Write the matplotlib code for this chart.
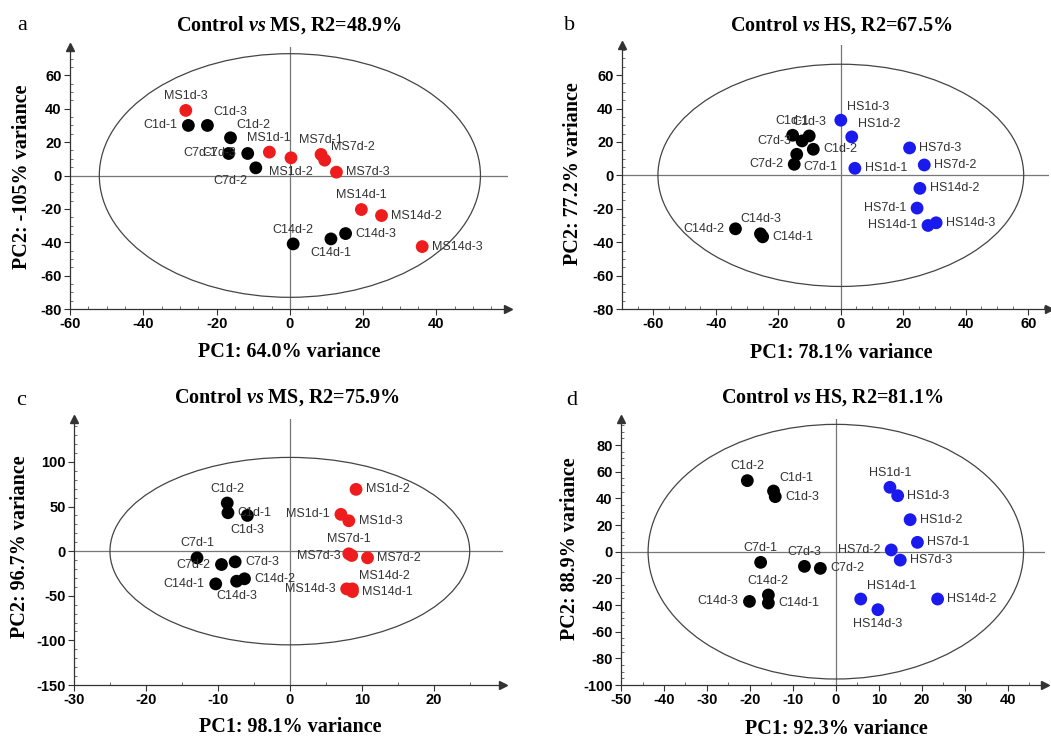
import matplotlib
matplotlib.use("Agg")
import matplotlib.pyplot as plt
from matplotlib.patches import Ellipse
from matplotlib.ticker import MultipleLocator

plt.rcParams["mathtext.fontset"] = "custom"
plt.rcParams["mathtext.bfit"] = "Liberation Serif:italic:bold"
plt.rcParams["mathtext.rm"] = "Liberation Serif:bold"
plt.rcParams["axes.unicode_minus"] = False

# Nomes das amostras (iguais nos quatro paineis, muda so o tratamento)
nomes_c = ["C1d-1", "C1d-2", "C1d-3", "C7d-1", "C7d-2", "C7d-3", "C14d-1", "C14d-2", "C14d-3"]
nomes_ms = ["MS1d-1", "MS1d-2", "MS1d-3", "MS7d-1", "MS7d-2", "MS7d-3", "MS14d-1", "MS14d-2", "MS14d-3"]
nomes_hs = ["HS1d-1", "HS1d-2", "HS1d-3", "HS7d-1", "HS7d-2", "HS7d-3", "HS14d-1", "HS14d-2", "HS14d-3"]

# Painel a - Control vs MS
a_pc1 = [-27.7, -16.2, -22.5, -16.7, -9.3, -11.5, 11.2, 0.9, 15.2,
         -5.6, 0.3, -28.4, 8.5, 9.5, 12.7, 19.5, 25.0, 36.1]
a_pc2 = [30.0, 22.6, 30.0, 13.2, 4.6, 13.2, -38.0, -41.0, -34.8,
         14.0, 10.6, 39.0, 12.6, 9.2, 2.0, -20.4, -24.0, -42.6]
a_elipse = [104, 146]

# Painel b - Control vs HS
b_pc1 = [-15.4, -8.8, -10.1, -14.1, -14.9, -12.4, -25.0, -33.7, -25.7,
         4.5, 3.5, 0.0, 24.4, 26.7, 22.0, 27.9, 25.3, 30.5]
b_pc2 = [24.0, 15.6, 23.6, 12.6, 6.6, 20.6, -36.8, -32.0, -35.0,
         4.2, 23.0, 33.0, -19.6, 6.2, 16.4, -30.0, -7.8, -28.4]
b_elipse = [117, 133]

# Painel c - Control vs MS
c_pc1 = [-8.6, -8.7, -5.9, -12.9, -9.5, -7.6, -10.3, -6.3, -7.4,
         7.1, 9.2, 8.2, 8.2, 10.8, 8.6, 8.7, 8.7, 7.9]
c_pc2 = [43.0, 53.9, 40.0, -7.5, -15.0, -12.0, -36.7, -31.0, -33.7,
         41.2, 69.2, 34.0, -3.0, -7.5, -4.9, -45.3, -42.3, -42.3]
c_elipse = [50, 210]

# Painel d - Control vs HS
d_pc1 = [-14.5, -20.6, -14.1, -17.5, -3.6, -7.3, -15.7, -15.7, -20.1,
         12.6, 17.3, 14.4, 19.0, 12.9, 15.0, 5.8, 23.7, 9.8]
d_pc2 = [45.5, 53.3, 41.3, -8.0, -12.5, -11.0, -38.5, -32.5, -37.3,
         48.3, 24.0, 42.0, 7.0, 1.3, -6.3, -35.5, -35.5, -43.5]
d_elipse = [87.4, 191]

# Onde fica o rotulo de cada ponto (r=direita, l=esquerda, a=acima, b=abaixo)
a_rot = ["l", "ar", "ar", "l", "bl", "l", "b", "a", "r",
         "a", "b", "a", "a", "ar", "r", "a", "r", "r"]
b_rot = ["a", "r", "a", "br", "l", "l", "r", "l", "a",
         "r", "ar", "ar", "l", "r", "r", "l", "r", "r"]
c_rot = ["r", "a", "b", "a", "l", "r", "l", "r", "b",
         "l", "r", "r", "a", "r", "l", "r", "ar", "l"]
d_rot = ["ar", "a", "r", "a", "r", "a", "r", "a", "l",
         "a", "r", "r", "r", "l", "r", "ar", "r", "b"]

desloc = {
    "r": ((7, 0), "left", "center"),
    "l": ((-8, 0), "right", "center"),
    "a": ((0, 6), "center", "bottom"),
    "b": ((0, -6), "center", "top"),
    "ar": ((4.5, 5), "left", "bottom"),
    "bl": ((-6, -5), "right", "top"),
    "br": ((5, -5), "left", "top"),
}

fig = plt.figure(figsize=(10.51, 7.38), dpi=100)


def painel(rect, nomes, pc1, pc2, rot, elipse, cor, xlim, ylim, xmaj, xmin, ymaj, ymin):
    ax = fig.add_axes(rect)
    ax.set_xlim(xlim)
    ax.set_ylim(ylim)
    for lado in ["top", "right"]:
        ax.spines[lado].set_visible(False)
    for lado in ["left", "bottom"]:
        ax.spines[lado].set_color("#333333")
        ax.spines[lado].set_linewidth(0.9)
    # setas no fim dos eixos
    ax.plot(1, 0, ">", color="#333333", ms=6, transform=ax.transAxes, clip_on=False)
    ax.plot(0, 1, "^", color="#333333", ms=6, transform=ax.transAxes, clip_on=False)

    ax.xaxis.set_major_locator(MultipleLocator(xmaj))
    ax.xaxis.set_minor_locator(MultipleLocator(xmin))
    ax.yaxis.set_major_locator(MultipleLocator(ymaj))
    ax.yaxis.set_minor_locator(MultipleLocator(ymin))
    ax.tick_params(which="major", direction="out", length=4, width=0.8, color="#333333", pad=2)
    ax.tick_params(which="minor", direction="in", length=2.5, width=0.6, color="#555555")
    for t in ax.get_xticklabels() + ax.get_yticklabels():
        t.set_fontfamily("Liberation Sans")
        t.set_fontweight("bold")
        t.set_fontsize(10.5)

    ax.axhline(0, color="#777777", lw=0.9, zorder=1)
    ax.axvline(0, color="#777777", lw=0.9, zorder=1)
    ax.add_patch(Ellipse((0, 0), elipse[0], elipse[1], fill=False, ec="#444444", lw=0.9, zorder=1))

    cores = ["black" if n.startswith("C") else cor for n in nomes]
    ax.scatter(pc1, pc2, s=85, c=cores, zorder=3, linewidths=0)
    for n, x, y, r in zip(nomes, pc1, pc2, rot):
        off, ha, va = desloc[r]
        ax.annotate(n, (x, y), xytext=off, textcoords="offset points", ha=ha, va=va,
                    fontsize=9, family="Liberation Sans", color="#333333", zorder=4)
    return ax


painel([0.0666, 0.5813, 0.4167, 0.355], nomes_c + nomes_ms, a_pc1, a_pc2, a_rot, a_elipse,
       "#ee1c1c", (-60, 59.5), (-80, 77), 20, 5, 20, 5)
painel([0.5918, 0.5813, 0.4063, 0.3577], nomes_c + nomes_hs, b_pc1, b_pc2, b_rot, b_elipse,
       "#1a1aee", (-70, 66.6), (-80, 78), 20, 5, 20, 5)
painel([0.0704, 0.0718, 0.408, 0.3604], nomes_c + nomes_ms, c_pc1, c_pc2, c_rot, c_elipse,
       "#ee1c1c", (-30, 29.6), (-150, 148), 10, 5, 50, 10)
painel([0.5909, 0.0718, 0.4034, 0.3604], nomes_c + nomes_hs, d_pc1, d_pc2, d_rot, d_elipse,
       "#1a1aee", (-50, 48.7), (-100, 99.5), 10, 5, 20, 5)

# Titulos, letras e rotulos dos eixos
serif = dict(family="Liberation Serif", fontweight="bold", fontsize=14.5, ha="center", va="center")
fig.text(0.275, 0.966, r"Control $\mathbfit{vs}$ MS, R2=48.9%", **serif)
fig.text(0.800, 0.966, r"Control $\mathbfit{vs}$ HS, R2=67.5%", **serif)
fig.text(0.273, 0.462, r"Control $\mathbfit{vs}$ MS, R2=75.9%", **serif)
fig.text(0.792, 0.462, r"Control $\mathbfit{vs}$ HS, R2=81.1%", **serif)

fig.text(0.275, 0.523, "PC1: 64.0% variance", **serif)
fig.text(0.800, 0.522, "PC1: 78.1% variance", **serif)
fig.text(0.276, 0.015, "PC1: 98.1% variance", **serif)
fig.text(0.796, 0.012, "PC1: 92.3% variance", **serif)

fig.text(0.021, 0.760, "PC2: -105% variance", rotation=90, **serif)
fig.text(0.545, 0.765, "PC2: 77.2% variance", rotation=90, **serif)
fig.text(0.019, 0.259, "PC2: 96.7% variance", rotation=90, **serif)
fig.text(0.542, 0.256, "PC2: 88.9% variance", rotation=90, **serif)

letra = dict(family="Liberation Serif", fontsize=16, ha="center", va="center")
fig.text(0.021, 0.966, "a", **letra)
fig.text(0.542, 0.966, "b", **letra)
fig.text(0.020, 0.457, "c", **letra)
fig.text(0.544, 0.457, "d", **letra)

fig.savefig("out.png", dpi=100)
